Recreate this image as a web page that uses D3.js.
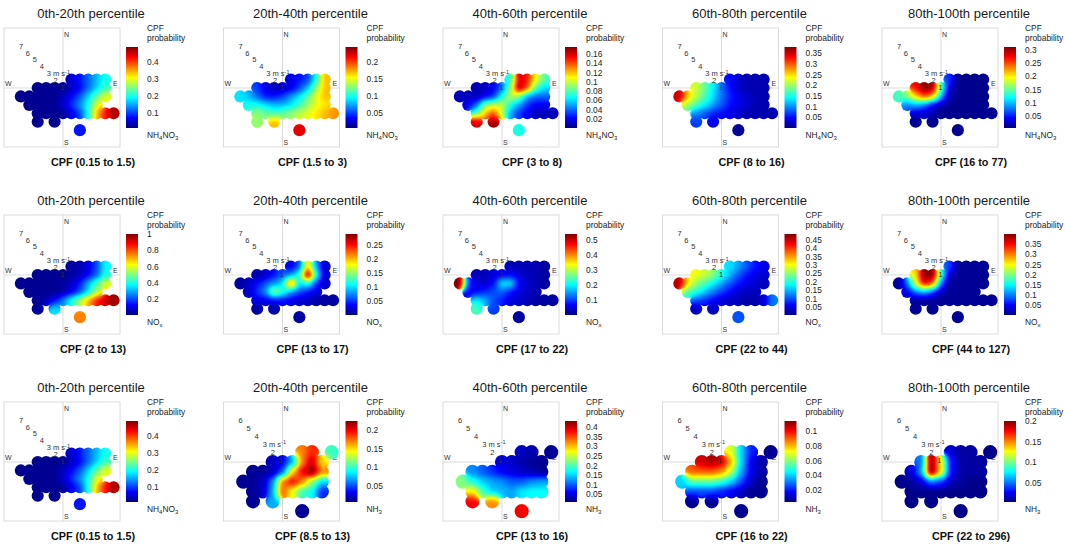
<!DOCTYPE html>
<html>
<head>
<meta charset="utf-8">
<script src="https://cdn.jsdelivr.net/npm/d3@7"></script>
<style>
  body { margin: 0; background: #fff; }
  text { font-family: "Liberation Sans", Arial, sans-serif; }
</style>
</head>
<body>
<div id="chart"></div>
<script>
const width = 1065;
const height = 544;

// panel headings
const titles = ["0th-20th percentile", "20th-40th percentile", "40th-60th percentile", "60th-80th percentile", "80th-100th percentile"];
const rangesNh4no3 = ["0.15 to 1.5", "1.5 to 3", "3 to 8", "8 to 16", "16 to 77"];
const rangesNox = ["2 to 13", "13 to 17", "17 to 22", "22 to 44", "44 to 127"];
const rangesNh3 = ["0.15 to 1.5", "8.5 to 13", "13 to 16", "16 to 22", "22 to 296"];

// species names: [text, isSubscript]
const labelNh4no3 = [["NH", false], ["4", true], ["NO", false], ["3", true]];
const labelNox = [["NO", false], ["x", true]];
const labelNh3 = [["NH", false], ["3", true]];

// wind speed axis maximum (m s-1)
const speedMaxRow1 = [7, 7, 7, 7, 7];
const speedMaxRow2 = [7, 7, 7, 7, 7];
const speedMaxRow3 = [7, 6, 6, 6, 6];

// colour bar ranges and tick labels (CPF probability)
const domainsRow1 = [[0.01, 0.49], [0.006, 0.244], [0, 0.175], [0, 0.378], [0.005, 0.31]];
const ticksRow1 = [[0.1, 0.2, 0.3, 0.4], [0.05, 0.1, 0.15, 0.2], [0.02, 0.04, 0.06, 0.08, 0.1, 0.12, 0.14, 0.16],
                   [0.05, 0.1, 0.15, 0.2, 0.25, 0.3, 0.35], [0.05, 0.1, 0.15, 0.2, 0.25, 0.3]];
const domainsRow2 = [[0, 1], [0, 0.29], [0, 0.54], [0, 0.485], [0, 0.4]];
const ticksRow2 = [[0.2, 0.4, 0.6, 0.8, 1], [0.05, 0.1, 0.15, 0.2, 0.25], [0.1, 0.2, 0.3, 0.4, 0.5],
                   [0.05, 0.1, 0.15, 0.2, 0.25, 0.3, 0.35, 0.4, 0.45], [0.05, 0.1, 0.15, 0.2, 0.25, 0.3, 0.35]];
const domainsRow3 = [[0.01, 0.49], [0.005, 0.225], [0.01, 0.43], [0.003, 0.114], [0.003, 0.2]];
const ticksRow3 = [[0.1, 0.2, 0.3, 0.4], [0.05, 0.1, 0.15, 0.2], [0.05, 0.1, 0.15, 0.2, 0.25, 0.3, 0.35, 0.4],
                   [0.02, 0.04, 0.06, 0.08, 0.1], [0.05, 0.1, 0.15, 0.2]];

// CPF per wind bin, one row per v (m s-1): [v, first u, values along u]
const nh4no3P0 = [
  [1, 1, [.05, .08, .12, .16, .2]],
  [0, -3, [.02, .02, .02, .02, .04, .07, .12, .17, .22]],
  [-1, -5, [.02, .02, .02, .02, .02, .04, .07, .11, .17, .24, .3]],
  [-2, -4, [.02, .02, .02, .02, .05, .09, .14, .2, .3]],
  [-3, -3, [.02, .02, .02, .02, .06, .1, .2, .34, .42, .47]],
  [-4, -3, [.02, null, .02]],
  [-5, 2, [.08]]
];
const nh4no3P20 = [
  [1, 1, [.03, .04, .05, .1, .17]],
  [0, -3, [.05, .03, .02, .02, .03, .05, .08, .13, .17]],
  [-1, -5, [.09, .08, .06, .04, .04, .05, .07, .09, .12, .15, .17]],
  [-2, -4, [.1, .1, .09, .08, .08, .09, .11, .13, .15, .16]],
  [-3, -3, [.13, .12, .11, .12, .13, .14, .15, .16, .17, .18]],
  [-4, -3, [.13, null, .17]],
  [-5, 2, [.22]]
];
const nh4no3P40 = [
  [1, 1, [.07, .16, .15, .11, .08]],
  [0, -3, [.01, .01, .02, .04, .09, .17, .14, .08, .06]],
  [-1, -5, [.01, .01, .01, .02, .03, .07, .1, .09, .05, .04, .04]],
  [-2, -4, [.02, .04, .09, .1, .1, .07, .05, .03, .02, .02]],
  [-3, -3, [.08, .12, .14, .1, .05, .03, .02, .01, .01, .01]],
  [-4, -3, [.16, null, .17]],
  [-5, 2, [.07]]
];
const nh4no3P60 = [
  [1, 1, [.05, .03, .02, .02, .02]],
  [0, -3, [.22, .18, .14, .09, .05, .03, .02, .02, .02]],
  [-1, -5, [.35, .26, .21, .17, .13, .09, .06, .04, .03, .02, .02]],
  [-2, -4, [.2, .17, .14, .11, .08, .05, .04, .03, .02, .02]],
  [-3, -3, [.1, .08, .06, .05, .04, .03, .02, .02, .02, .02]],
  [-4, -3, [.07, null, .04]],
  [-5, 2, [.01]]
];
const nh4no3P80 = [
  [1, 1, [.06, .01, .01, .01, .01]],
  [0, -3, [.27, .31, .3, .15, .03, .01, .01, .01, .01]],
  [-1, -5, [.14, .16, .21, .25, .22, .1, .02, .01, .01, .01, .01]],
  [-2, -4, [.08, .1, .08, .04, .02, .01, .01, .01, .01, .01]],
  [-3, -3, [.03, .03, .02, .01, .01, .01, .01, .01, .01, .01]],
  [-4, -3, [.01, null, .01]],
  [-5, 2, [.01]]
];

const noxP0 = [
  [1, 1, [.03, .05, .1, .2, .38]],
  [0, -3, [.02, .02, .02, .02, .03, .06, .12, .22, .4]],
  [-1, -5, [.02, .02, .02, .02, .02, .03, .07, .15, .3, .45, .6]],
  [-2, -4, [.02, .02, .02, .02, .04, .1, .2, .35, .55]],
  [-3, -3, [.02, .05, .12, .25, .4, .55, .7, .85, .92, .97]],
  [-4, -3, [.03, null, .35]],
  [-5, 2, [.75]]
];
const noxP20 = [
  [1, 1, [.03, .06, .2, .08, .02]],
  [0, -3, [.01, .02, .04, .06, .08, .12, .29, .12, .02]],
  [-1, -5, [.01, .02, .04, .06, .08, .1, .24, .1, .12, .05, .02]],
  [-2, -4, [.02, .05, .08, .16, .12, .08, .06, .04, .03]],
  [-3, -3, [.03, .03, .04, .04, .03, .02, .02, .01, .01, .01]],
  [-4, -3, [.01, null, .01]],
  [-5, 2, [.01]]
];
const noxP40 = [
  [1, 1, [.03, .03, .03, .03, .02]],
  [0, -3, [.03, .03, .05, .06, .07, .05, .03, .03, .02]],
  [-1, -5, [.54, .1, .05, .04, .07, .2, .2, .07, .04, .03, .02]],
  [-2, -4, [.06, .07, .09, .11, .12, .08, .05, .04, .03]],
  [-3, -3, [.2, .16, .11, .08, .05, .04, .03, .02, .02, .02]],
  [-4, -3, [.24, null, .1]],
  [-5, 2, [.02]]
];
const noxP60 = [
  [1, 1, [.17, .14, .1, .07, .05]],
  [0, -3, [.3, .28, .25, .2, .15, .1, .07, .05, .04]],
  [-1, -5, [.46, .32, .25, .22, .18, .14, .1, .07, .05, .04, .03]],
  [-2, -4, [.22, .2, .16, .12, .09, .06, .04, .03, .03]],
  [-3, -3, [.1, .08, .06, .04, .03, .03, .02, .02, .04, .12]],
  [-4, -3, [.03, null, .03]],
  [-5, 2, [.1]]
];
const noxP80 = [
  [1, 1, [.08, .01, .01, .01, .01]],
  [0, -3, [.26, .4, .4, .18, .03, .01, .01, .01, .01]],
  [-1, -5, [.01, .1, .24, .36, .32, .1, .01, .01, .01, .01, .01]],
  [-2, -4, [.04, .1, .12, .08, .02, .01, .01, .01, .01]],
  [-3, -3, [.01, .01, .01, .01, .01, .01, .01, .01, .01, .01]],
  [-4, -3, [.01, null, .01]],
  [-5, 2, [.01]]
];

const nh3P20 = [
  [1, 2, [.17, .19, null, .1]],
  [0, -1, [.02, .03, .07, .17, .21, .15]],
  [-1, -3, [.01, .01, .02, .05, .15, .2, .225, .17]],
  [-2, -4, [.01, .01, .02, .06, .17, .2, .17, .12, .08]],
  [-3, -3, [.01, .02, .07, .18, .14, .1, .09, .04]],
  [-4, -3, [.01, null, .07]],
  [-5, 2, [.01]]
];
const nh3P40 = [
  [1, 2, [.04, .03, null, .02]],
  [0, 0, [.05, .04, .03, .02, .02]],
  [-1, -3, [.12, .1, .08, .06, .05, .04, .03, .02]],
  [-2, -4, [.22, .18, .15, .13, .12, .1, .1, .12, .13]],
  [-3, -3, [.28, .2, .15, .14, .13, .16, .17, .17]],
  [-4, -3, [.38, null, .32]],
  [-5, 2, [.38]]
];
const nh3P60 = [
  [1, 1, [.07, .04, .02, null, .005]],
  [0, -2, [.105, .11, .105, .08, .04, .015, .008]],
  [-1, -3, [.09, .09, .09, .085, .065, .035, .015, .008]],
  [-2, -4, [.04, .055, .055, .055, .05, .04, .025, .01, .005]],
  [-3, -3, [.025, .025, .025, .02, .015, .01, .005, .005]],
  [-4, -3, [.005, null, .005]],
  [-5, 2, [.005]]
];
const nh3P80 = [
  [1, 1, [.02, .01, .01, null, .005]],
  [0, -2, [.05, .2, .13, .03, .01, .01, .01]],
  [-1, -3, [.02, .06, .2, .13, .03, .01, .01, .01]],
  [-2, -4, [.005, .01, .02, .05, .04, .015, .01, .005, .005]],
  [-3, -3, [.005, .005, .005, .005, .005, .005, .005, .005]],
  [-4, -3, [.005, null, .005]],
  [-5, 2, [.005]]
];

// jet colour map
const jetStops = [0, 0.125, 0.375, 0.625, 0.875, 1];
const jetColors = ["#00007f", "#0000ff", "#00ffff", "#ffff00", "#ff0000", "#7f0000"];
const jet = d3.scaleLinear().domain(jetStops).range(jetColors).interpolate(d3.interpolateRgb);

const rows = [
  {data: [nh4no3P0, nh4no3P20, nh4no3P40, nh4no3P60, nh4no3P80], ranges: rangesNh4no3, label: labelNh4no3,
   domains: domainsRow1, ticks: ticksRow1, smax: speedMaxRow1},
  {data: [noxP0, noxP20, noxP40, noxP60, noxP80], ranges: rangesNox, label: labelNox,
   domains: domainsRow2, ticks: ticksRow2, smax: speedMaxRow2},
  {data: [nh4no3P0, nh3P20, nh3P40, nh3P60, nh3P80], ranges: rangesNh3,
   label: null, domains: domainsRow3, ticks: ticksRow3, smax: speedMaxRow3}
];

const svg = d3.select('#chart').append('svg')
    .attr('width', width)
    .attr('height', height);
const defs = svg.append('defs');

// colour bar gradient
const grad = defs.append('linearGradient').attr('id', 'jetGrad')
    .attr('x1', 0).attr('y1', 1).attr('x2', 0).attr('y2', 0);
grad.selectAll('stop').data(jetStops).enter().append('stop')
    .attr('offset', d => d)
    .attr('stop-color', d => jet(d));

// smooth the grey value field, then map grey -> jet
const tableOf = ch => d3.range(9).map(i => (d3.rgb(jet(i / 8))[ch] / 255).toFixed(3)).join(' ');
const filt = defs.append('filter').attr('id', 'smooth')
    .attr('color-interpolation-filters', 'sRGB')
    .attr('x', '-20%').attr('y', '-20%').attr('width', '140%').attr('height', '140%');
filt.append('feGaussianBlur').attr('in', 'SourceGraphic').attr('stdDeviation', 3).attr('result', 'b');
const ct = filt.append('feComponentTransfer').attr('in', 'b');
ct.append('feFuncR').attr('type', 'table').attr('tableValues', tableOf('r'));
ct.append('feFuncG').attr('type', 'table').attr('tableValues', tableOf('g'));
ct.append('feFuncB').attr('type', 'table').attr('tableValues', tableOf('b'));
ct.append('feFuncA').attr('type', 'linear').attr('slope', 20).attr('intercept', 0);

function cellsOf(rowsData) {
    const out = [];
    rowsData.forEach(([v, u0, vals]) => vals.forEach((val, k) => {
        if (val !== null) out.push({u: u0 + k, v: v, val: val});
    }));
    return out;
}

function drawPanel(j, i) {
    const row = rows[j];
    const L = 4 + 219.5 * i;
    const T = 28 + 187 * j;
    const smax = row.smax[i];
    const dom = row.domains[i];
    const label = row.label || (i === 0 ? labelNh4no3 : labelNh3);
    const g = svg.append('g');

    const x = d3.scaleLinear().domain([-smax, smax]).range([L, L + 118]);
    const y = d3.scaleLinear().domain([smax, -smax]).range([T + 1, T + 119]);
    const norm = d3.scaleLinear().domain(dom).range([0, 1]).clamp(true);
    const unit = x(1) - x(0);

    // frame and cross
    g.append('rect').attr('x', L).attr('y', T).attr('width', 116).attr('height', 119)
        .attr('fill', 'none').attr('stroke', '#dcdcdc').attr('stroke-width', 1);
    g.append('line').attr('x1', L).attr('x2', L + 116).attr('y1', y(0)).attr('y2', y(0))
        .attr('stroke', '#d2d2d2').attr('stroke-width', 0.8);
    g.append('line').attr('x1', x(0)).attr('x2', x(0)).attr('y1', T).attr('y2', T + 119)
        .attr('stroke', '#d2d2d2').attr('stroke-width', 0.8);

    const compass = g.append('g').attr('font-size', '7px').attr('fill', '#333');
    compass.append('text').attr('x', x(0) + 1).attr('y', T + 9).text('N');
    compass.append('text').attr('x', x(0) + 1).attr('y', T + 117).text('S');
    compass.append('text').attr('x', L + 1).attr('y', y(0) - 2).text('W');
    compass.append('text').attr('x', L + 109).attr('y', y(0) - 2).text('E');

    // CPF surface
    const cells = cellsOf(row.data[i]);
    const clipId = `clip-${j}-${i}`;
    defs.append('clipPath').attr('id', clipId)
        .selectAll('circle').data(cells).enter().append('circle')
        .attr('cx', d => x(d.u)).attr('cy', d => y(d.v)).attr('r', unit * 0.72);

    const grey = d => { const c = Math.round(norm(d.val) * 255); return d3.rgb(c, c, c); };
    const surf = g.append('g').attr('clip-path', `url(#${clipId})`)
        .append('g').attr('filter', 'url(#smooth)');
    surf.selectAll('circle').data(cells).enter().append('circle')
        .attr('cx', d => x(d.u)).attr('cy', d => y(d.v)).attr('r', unit * 0.78)
        .attr('fill', grey);
    surf.selectAll('rect').data(cells).enter().append('rect')
        .attr('x', d => x(d.u - 0.5)).attr('y', d => y(d.v + 0.5))
        .attr('width', unit + 0.3).attr('height', unit + 0.3)
        .attr('fill', grey);

    // speed labels along the NW diagonal
    const lab = d3.scaleLinear().domain([0, smax]).range([-6.5, 42]);
    const speeds = g.append('g').attr('font-size', '7.5px').attr('fill', '#333');
    d3.range(1, smax + 1).forEach(s => {
        const px = x(0) - lab(s), py = y(0) - lab(s);
        if (s === 3) {
            const t = speeds.append('text').attr('x', px - 2).attr('y', py).attr('dy', '0.35em').text('3 m s');
            t.append('tspan').attr('dy', '-0.45em').attr('font-size', '5.5px').text('-1');
        } else {
            speeds.append('text').attr('x', px).attr('y', py).attr('dy', '0.35em')
                .attr('text-anchor', 'middle').text(s);
        }
    });

    // colour bar
    const cb = d3.scaleLinear().domain(dom).range([T + 100, T + 19]);
    g.append('rect').attr('x', L + 122).attr('y', T + 19).attr('width', 12).attr('height', 81)
        .attr('fill', 'url(#jetGrad)');
    const axis = g.append('g').attr('transform', `translate(${L + 134},0)`)
        .call(d3.axisRight(cb).tickValues(row.ticks[i]).tickSize(0).tickPadding(9).tickFormat(d3.format('~g')));
    axis.select('.domain').remove();
    axis.selectAll('text').attr('font-size', '8.4px').attr('fill', '#222')
        .attr('font-family', '"Liberation Sans", Arial, sans-serif');

    const small = g.append('g').attr('font-size', '8.4px').attr('fill', '#222');
    small.append('text').attr('x', L + 143).attr('y', T + 3).text('CPF');
    small.append('text').attr('x', L + 143).attr('y', T + 12.5).text('probability');
    const sp = small.append('text').attr('x', L + 143).attr('y', T + 110);
    label.forEach(([txt, sub], k) => {
        const ts = sp.append('tspan').text(txt);
        if (sub) ts.attr('font-size', '6px').attr('dy', 2);
        else if (k > 0) ts.attr('dy', -2);
    });

    // heading and CPF range
    g.append('text').attr('x', L + 87).attr('y', T - 10.5).attr('text-anchor', 'middle')
        .attr('font-size', '13px').attr('fill', '#1a1a1a').text(titles[i]);
    g.append('text').attr('x', L + 89).attr('y', T + 138).attr('text-anchor', 'middle')
        .attr('font-size', '10.8px').attr('font-weight', 'bold').attr('fill', '#111')
        .text(`CPF (${row.ranges[i]})`);
}

rows.forEach((row, j) => row.data.forEach((d, i) => drawPanel(j, i)));
</script>
</body>
</html>
